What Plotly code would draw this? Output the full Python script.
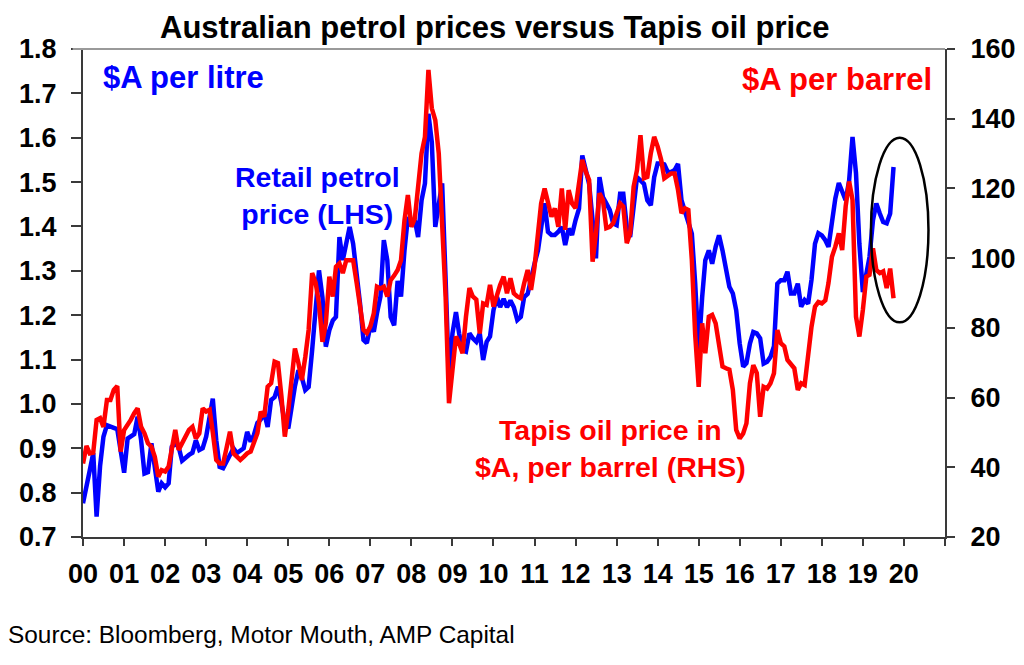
import plotly.graph_objects as go
import pandas as pd

# Retail petrol price, $A per litre (monthly, Jan 2000 - Oct 2019)
petrol = [
    0.776, 0.81, 0.85, 0.889, 0.746, 0.86, 0.926, 0.952, 0.95, 0.946, 0.943, 0.90,      # 2000
    0.845, 0.922, 0.927, 0.932, 0.971, 0.918, 0.843, 0.846, 0.911, 0.851, 0.802, 0.821,  # 2001
    0.812, 0.821, 0.903, 0.91, 0.903, 0.872, 0.88, 0.885, 0.89, 0.918, 0.896, 0.90,      # 2002
    0.926, 0.979, 1.012, 0.918, 0.858, 0.855, 0.87, 0.889, 0.90, 0.889, 0.896, 0.90,     # 2003
    0.937, 0.915, 0.93, 0.957, 0.965, 0.979, 0.948, 1.009, 1.015, 1.039, 1.002, 0.956,   # 2004
    0.945, 1.0, 1.04, 1.076, 1.06, 1.031, 1.038, 1.121, 1.211, 1.301, 1.24, 1.129,       # 2005
    1.166, 1.188, 1.196, 1.376, 1.324, 1.361, 1.399, 1.361, 1.301, 1.227, 1.144, 1.137,  # 2006
    1.175, 1.163, 1.204, 1.242, 1.369, 1.324, 1.196, 1.177, 1.277, 1.242, 1.346, 1.421,  # 2007
    1.406, 1.414, 1.376, 1.459, 1.497, 1.654, 1.59, 1.399, 1.45, 1.497, 1.28, 1.054,     # 2008
    1.159, 1.207, 1.159, 1.121, 1.118, 1.159, 1.148, 1.14, 1.159, 1.099, 1.14, 1.152,    # 2009
    1.211, 1.241, 1.218, 1.237, 1.218, 1.233, 1.218, 1.189, 1.196, 1.241, 1.248, 1.286,  # 2010
    1.316, 1.346, 1.406, 1.452, 1.388, 1.381, 1.381, 1.388, 1.399, 1.358, 1.395, 1.381,  # 2011
    1.414, 1.44, 1.56, 1.526, 1.496, 1.414, 1.328, 1.511, 1.466, 1.452, 1.437, 1.407,    # 2012
    1.403, 1.474, 1.474, 1.40, 1.376, 1.444, 1.511, 1.504, 1.496, 1.459, 1.448, 1.511,   # 2013
    1.542, 1.542, 1.54, 1.523, 1.523, 1.527, 1.541, 1.459, 1.436, 1.414, 1.384, 1.271,   # 2014
    1.121, 1.241, 1.324, 1.346, 1.316, 1.354, 1.38, 1.346, 1.309, 1.264, 1.249, 1.211,   # 2015
    1.136, 1.084, 1.092, 1.136, 1.162, 1.159, 1.148, 1.091, 1.095, 1.106, 1.13, 1.271,   # 2016
    1.279, 1.279, 1.298, 1.249, 1.249, 1.271, 1.219, 1.234, 1.226, 1.28, 1.361, 1.385,   # 2017
    1.38, 1.369, 1.354, 1.414, 1.463, 1.498, 1.478, 1.459, 1.504, 1.602, 1.52, 1.361,    # 2018
    1.252, 1.293, 1.331, 1.414, 1.452, 1.429, 1.41, 1.407, 1.429, 1.534,                 # 2019
]

# Tapis oil price, $A per barrel (monthly, Jan 2000 - Oct 2019)
tapis = [
    41.1, 46.1, 44.0, 44.2, 53.6, 54.1, 51.6, 59.3, 59.3, 62.2, 63.3, 44.5,        # 2000
    50.7, 52.0, 53.6, 55.5, 56.9, 51.6, 49.75, 46.9, 45.9, 43.0, 37.3, 39.2,       # 2001
    38.8, 40.2, 45.0, 50.7, 45.0, 46.9, 48.5, 50.7, 51.6, 48.3, 49.75, 56.9,       # 2002
    56.0, 56.5, 50.0, 42.1, 41.1, 41.1, 45.5, 50.2, 44.0, 43.0, 42.1, 43.0,        # 2003
    44.0, 44.5, 47.3, 49.75, 55.95, 54.5, 63.1, 64.1, 70.3, 69.9, 60.3, 48.8,      # 2004
    56.4, 67.0, 74.1, 69.9, 65.0, 71.6, 79.4, 95.7, 93.0, 87.0, 76.0, 81.3,        # 2005
    94.7, 89.0, 97.5, 98.5, 95.7, 99.4, 99.4, 99.4, 93.0, 85.3, 79.4, 78.5,        # 2006
    80.4, 84.2, 91.8, 91.3, 91.8, 89.0, 93.7, 95.0, 96.6, 99.4, 110.9, 118.1,      # 2007
    109.0, 111.4, 119.5, 130.1, 134.8, 154.0, 143.0, 139.6, 130.0, 110.0, 88.9, 58.4,  # 2008
    67.0, 77.5, 75.6, 72.7, 83.2, 91.4, 89.0, 88.1, 78.4, 87.0, 86.6, 92.3,        # 2009
    86.1, 89.9, 92.3, 94.7, 89.9, 94.2, 89.9, 89.0, 88.5, 92.8, 96.6, 90.9,        # 2010
    97.5, 107.1, 115.7, 120.0, 116.6, 111.9, 114.3, 109.0, 120.0, 108.1, 119.5, 115.7,  # 2011
    114.3, 122.4, 128.2, 124.8, 122.4, 99.0, 107.1, 118.6, 116.6, 108.6, 109.0, 110.0,  # 2012
    113.0, 115.7, 114.8, 104.3, 107.1, 120.5, 125.3, 135.3, 122.9, 123.3, 130.1, 134.8,  # 2013
    132.0, 128.2, 122.9, 123.8, 124.3, 124.3, 119.6, 112.9, 114.3, 113.8, 99.5, 78.0,  # 2014
    63.1, 81.3, 72.7, 83.2, 83.7, 81.3, 75.6, 68.9, 68.4, 68.0, 62.2, 50.7,        # 2015
    48.3, 49.7, 52.6, 64.1, 69.3, 67.0, 54.5, 63.1, 62.6, 64.1, 67.0, 79.4,        # 2016
    75.6, 74.7, 70.8, 69.3, 68.4, 62.2, 64.1, 63.6, 72.7, 80.3, 86.1, 87.4,        # 2017
    87.0, 87.9, 92.8, 100.4, 103.3, 107.1, 102.3, 114.8, 122.0, 116.7, 83.2, 77.5,  # 2018
    85.1, 94.7, 95.2, 102.8, 96.6, 95.7, 96.2, 91.4, 97.0, 88.5,                   # 2019
]

months = pd.date_range("2000-01-01", periods=len(petrol), freq="MS")

tick_years = list(range(2000, 2022))
tick_labels = [f"{y % 100:02d}" for y in range(2000, 2021)] + [""]

FONT = "Liberation Sans, Arial, sans-serif"
AXIS = "#3a3a3a"

fig = go.Figure()
fig.add_trace(go.Scatter(x=months, y=petrol, mode="lines", yaxis="y",
                         line=dict(color="#0000FF", width=4.5), name="Retail petrol price"))
fig.add_trace(go.Scatter(x=months, y=tapis, mode="lines", yaxis="y2",
                         line=dict(color="#FF0000", width=4.5), name="Tapis oil price"))

fig.update_layout(
    width=1016, height=657,
    margin=dict(l=75, r=79, t=41, b=128),
    paper_bgcolor="white", plot_bgcolor="white",
    showlegend=False,
    font=dict(family=FONT, color="black"),
    xaxis=dict(
        type="date",
        range=["2000-01-01", "2021-01-01"],
        tickmode="array",
        tickvals=[f"{y}-01-01" for y in tick_years],
        ticktext=tick_labels,
        ticks="outside", ticklen=7, tickwidth=1.5, tickcolor=AXIS,
        showline=True, linecolor=AXIS, linewidth=2,
        showgrid=False, zeroline=False,
        tickfont=dict(size=27, family=FONT, color="black", weight="bold"),
        ticklabelstandoff=5,
        automargin=False,
    ),
    yaxis=dict(
        range=[0.7, 1.8], dtick=0.1, tick0=0.7, tickformat=".1f",
        ticks="outside", ticklen=10, tickwidth=1.5, tickcolor=AXIS,
        showline=True, linecolor=AXIS, linewidth=2,
        showgrid=False, zeroline=False,
        tickfont=dict(size=27, family=FONT, color="black", weight="bold"),
        ticklabelstandoff=9,
        automargin=False,
    ),
    yaxis2=dict(
        range=[20, 160], dtick=20, tick0=20,
        overlaying="y", side="right",
        ticks="outside", ticklen=8, tickwidth=1.5, tickcolor=AXIS,
        showline=True, linecolor=AXIS, linewidth=2,
        showgrid=False, zeroline=False,
        tickfont=dict(size=27, family=FONT, color="black", weight="bold"),
        ticklabelstandoff=10,
        automargin=False,
    ),
)

# top border of plot area
fig.add_shape(type="line", xref="paper", yref="paper", x0=-0.012, x1=1, y0=1, y1=1,
              line=dict(color="#9a9a9a", width=2))

# ellipse highlighting latest divergence
fig.add_shape(type="circle", xref="x", yref="y",
              x0="2019-03-14", x1="2020-08-07", y0=1.184, y1=1.600,
              line=dict(color="black", width=2.5))

def ann(text, x, y, color, size, xanchor="center", bold=True, align="center"):
    fig.add_annotation(text=text, x=x, y=y, xref="paper", yref="paper",
                       xanchor=xanchor, yanchor="middle", showarrow=False, align=align,
                       font=dict(size=size, color=color, family=FONT,
                                 weight="bold" if bold else "normal"))

ann("Australian petrol prices versus Tapis oil price", 0.478, 1.045, "black", 31)
ann("$A per litre", 0.021, 0.9426, "#0000FF", 31, xanchor="left")
ann("$A per barrel", 0.987, 0.9365, "#FF0000", 31, xanchor="right")
ann("Retail petrol<br>price (LHS)", 0.2715, 0.699, "#0000FF", 28.5)
ann("Tapis oil price in<br>$A, per barrel (RHS)", 0.612, 0.182, "#FF0000", 28.5)
ann("Source: Bloomberg, Motor Mouth, AMP Capital", -0.0893, -0.2008, "black", 24.4,
    xanchor="left", bold=False)

fig.write_html("out.html")
